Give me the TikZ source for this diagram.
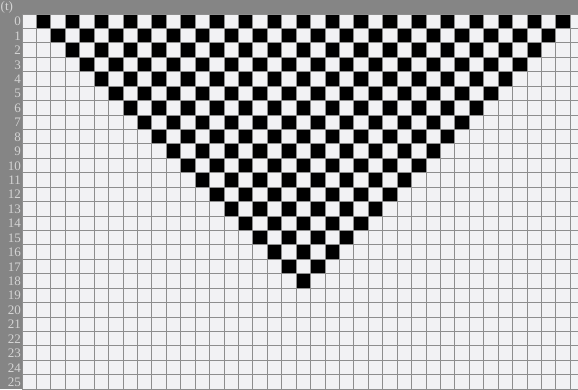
\documentclass[tikz,border=0pt]{standalone}
\usepackage{fontspec}
\setmainfont{Liberation Serif}
\definecolor{hdr}{HTML}{858585}
\definecolor{hdrtext}{HTML}{D4D4D4}
\definecolor{cellbg}{HTML}{F2F2F4}
\definecolor{gridc}{HTML}{8E8E8E}
\tikzset{
  gridline/.style={draw=gridc, line width=0.9pt},
  blackcell/.style={fill=black},
  rowlabel/.style={anchor=east, text=hdrtext, inner sep=0pt, font=\fontsize{13}{13}\selectfont},
}
\begin{document}
\begin{tikzpicture}[x=1pt,y=-1pt]
\useasboundingbox (0,0) rectangle (578,389);
\clip (0,0) rectangle (578,389);
\fill[hdr] (0,0) rectangle (578,14);
\fill[hdr] (0,0) rectangle (22,389);
\fill[cellbg] (22,14) rectangle (578,389);
\foreach \r in {0,...,18} {
  \pgfmathtruncatemacro\n{18-\r}
  \foreach \k in {0,...,\n} {
    \pgfmathsetmacro\cx{22+(\r+1+2*\k)*14.43}
    \pgfmathsetmacro\cy{14+\r*14.43}
    \fill[blackcell] (\cx,\cy) rectangle ++(14.43,14.43);
  }
}
\foreach \i in {0,...,38} {
  \draw[gridline] ({22+\i*14.43},14) -- ({22+\i*14.43},389);
}
\foreach \j in {0,...,26} {
  \draw[gridline] (22,{14+\j*14.43}) -- (578,{14+\j*14.43});
}
\foreach \r in {0,...,25} {
  \node[rowlabel] (lab\r) at (21,{14+\r*14.43+7.5}) {\r};
}
\node[rowlabel, anchor=west] (tlab) at (0.5,7) {(t)};
\end{tikzpicture}
\end{document}
